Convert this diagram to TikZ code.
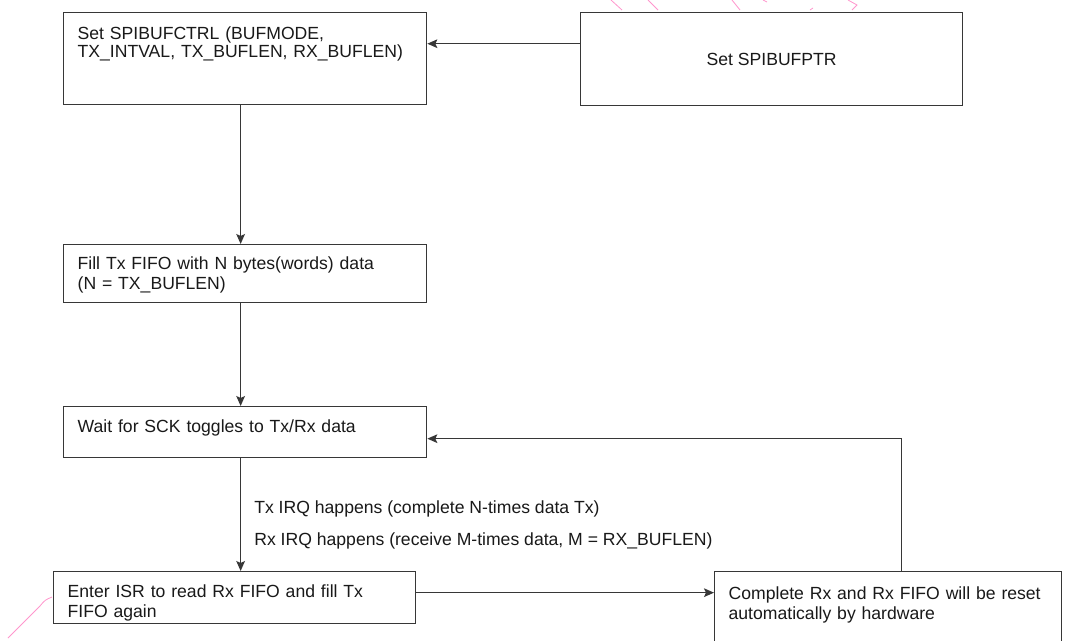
\documentclass[tikz,border=0pt]{standalone}
\usepackage{fontspec}
\setmainfont{Liberation Sans}
\usepackage{tikz}
\usetikzlibrary{arrows.meta}
\definecolor{linegray}{RGB}{55,55,55}
\definecolor{markpink}{RGB}{255,150,205}
\tikzset{
    %Define standard arrow tip
    >={Stealth[length=7.5pt,width=6.5pt,inset=1.5pt]},
    %Define style for boxes
    boks/.style={
           rectangle,
           draw=linegray, line width=1pt,
           anchor=north west,
           inner xsep=10.5pt, inner ysep=0pt,
           text width=#1,
           align=left},
    % Define arrow style
    pil/.style={
           ->,
           draw=linegray,
           line width=1pt}
}
\begin{document}
\begin{tikzpicture}[x=0.75pt,y=-0.75pt,
  font=\fontsize{13.2pt}{15pt}\selectfont,text=black!90]
\clip (0,0) rectangle (1065,640);
\fill[white] (0,0) rectangle (1065,640);
\node[boks=251.25pt, text height=19.9pt, text depth=49.1pt](1) at (63,12)
  {Set SPIBUFCTRL (BUFMODE,\\[-1.5pt]TX\_INTVAL, TX\_BUFLEN, RX\_BUFLEN)};
\node[draw=linegray, line width=1pt, anchor=north west,
  minimum width=286.5pt, minimum height=69.75pt](2) at (580,12) {Set SPIBUFPTR};
\node[boks=251.25pt, text height=18.4pt, text depth=25.1pt](3) at (63,244)
  {Fill Tx FIFO with N bytes(words) data\\(N = TX\_BUFLEN)};
\node[boks=251.25pt, text height=19.1pt, text depth=19.1pt](4) at (63,406)
  {Wait for SCK toggles to Tx/Rx data};
\node[boks=250.5pt, text height=19.1pt, text depth=19.9pt](5) at (53,571)
  {Enter ISR to read Rx FIFO and fill Tx\\FIFO again};
\node[boks=239.25pt, text height=20.6pt, text depth=61pt](6) at (714,571)
  {\mbox{Complete Rx and Rx FIFO will be reset}\\automatically by hardware};
% connectors
\draw[pil] ([yshift=11.6pt]2.west) -- ([yshift=11.6pt]2.west -| 1.east);
\draw[pil] ([xshift=-3.4pt]1.south) -- ([xshift=-3.4pt]1.south |- 3.north);
\draw[pil] ([xshift=-3.4pt]3.south) -- ([xshift=-3.4pt]3.south |- 4.north);
\draw[pil] ([xshift=-3.4pt]4.south) -- ([xshift=-3.4pt]4.south |- 5.north)
  node[pos=0.59, right, align=left, inner xsep=9.75pt]
  {Tx IRQ happens (complete N-times data Tx)\\[8.5pt]
   Rx IRQ happens (receive M-times data, M = RX\_BUFLEN)};
\draw[pil] ([yshift=3.75pt]5.east) -- ([yshift=3.75pt]5.east -| 6.west);
\draw[pil] ([xshift=10.1pt]6.north) |- ([yshift=-4.9pt]4.east);
% faint pink strokes
\draw[markpink, line width=0.6pt]
  (611,0) -- (622,10) (648,0) -- (658,10) (732,0) -- (740,10)
  (763,0) -- (767,2) (810,10) -- (813,8) (848,0) -- (857,5) -- (852,10);
\draw[markpink, line width=0.6pt]
  (52,597) .. controls (45,600) .. (40,606) -- (8,638);
\end{tikzpicture}
\end{document}
